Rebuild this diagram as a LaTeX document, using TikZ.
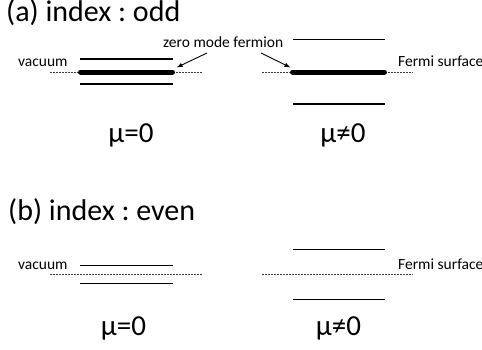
\documentclass[tikz,border=0pt]{standalone}
\usepackage{fontspec}
\setmainfont{Carlito}
\frenchspacing
\usetikzlibrary{calc, arrows.meta}
\definecolor{Ink}{HTML}{000000}
\definecolor{DashInk}{HTML}{3A3A3A}
\tikzset{
    level/.style={line width=1.3pt, color=Ink},
    zeromode/.style={line width=5pt, line cap=round, color=Ink},
    fermiline/.style={line width=0.7pt, color=DashInk, dash pattern=on 2pt off 1pt},
    pointer/.style={-{Latex[length=6pt, width=4.5pt]}, line width=0.9pt, color=Ink},
    headline/.style={anchor=base west, inner sep=0pt, font=\fontsize{30}{36}\selectfont},
    smalltext/.style={anchor=base west, inner sep=0pt, font=\fontsize{15.5}{18}\selectfont},
    mulabel/.style={anchor=base, inner sep=0pt, font=\fontsize{29}{34}\selectfont},
}

\begin{document}
\begin{tikzpicture}[x=1pt, y=-1pt]
    \useasboundingbox (0,0) rectangle (482,349);

    % (a) index odd
    \node[headline] (titleA) at (6,21) {(a) index : odd};
    \node[smalltext] (vacA) at (18,66.5) {vacuum};
    \node[smalltext] (fermiA) at (398,66.5) {Fermi surface};
    \node[smalltext] (zmf) at (163,47) {zero mode fermion};

    % left: mu = 0
    \draw[fermiline] (50,72) -- (202,72);
    \draw[level] (80,59) -- (173,59);
    \draw[zeromode] (80.5,72) -- (172.5,72);
    \draw[level] (80,84) -- (173,84);
    \node[mulabel] (muA) at (131,142) {μ=0};

    % right: mu != 0
    \draw[fermiline] (262,72) -- (413,72);
    \draw[level] (293,39.5) -- (385,39.5);
    \draw[zeromode] (292.5,72) -- (384.5,72);
    \draw[level] (293,104) -- (385,104);
    \node[mulabel] (munA) at (343,142) {μ≠0};

    % arrows to the zero modes
    \coordinate (zmL) at (176.5,67.5);
    \coordinate (zmR) at (290.5,67.5);
    \draw[pointer] ([xshift=44pt, yshift=-6pt]zmf.base west) -- (zmL);
    \draw[pointer] ([xshift=98pt, yshift=-6pt]zmf.base west) -- (zmR);

    % (b) index even
    \node[headline] (titleB) at (8,220) {(b) index : even};
    \node[smalltext] (vacB) at (18,269) {vacuum};
    \node[smalltext] (fermiB) at (398,269) {Fermi surface};

    % left: mu = 0
    \draw[fermiline] (50,274.3) -- (202,274.3);
    \draw[level] (80,265.7) -- (173,265.7);
    \draw[level] (80,283.3) -- (173,283.3);
    \node[mulabel] (muB) at (123.5,335) {μ=0};

    % right: mu != 0
    \draw[fermiline] (262,274.3) -- (413,274.3);
    \draw[level] (293,249.3) -- (385,249.3);
    \draw[level] (293,299.3) -- (385,299.3);
    \node[mulabel] (munB) at (338.5,335) {μ≠0};
\end{tikzpicture}
\end{document}
